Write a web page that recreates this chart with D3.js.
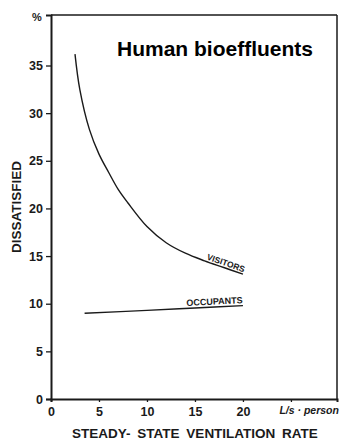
<!DOCTYPE html>
<html>
<head>
<meta charset="utf-8">
<script src="https://cdn.jsdelivr.net/npm/d3@7"></script>
<style>
  html, body { margin: 0; padding: 0; background: #fff; }
  svg { display: block; font-family: "Liberation Sans", Arial, sans-serif; }
</style>
</head>
<body>
<svg id="chart" width="339" height="442"></svg>
<script>
// Ventilation rate (L/s per person) and percentage dissatisfied
const visitorRate = [2.5, 3, 4, 5, 6, 7, 8, 10, 12, 14, 16, 18, 20];
const visitorDissatisfied = [36.2, 32.5, 28.3, 25.7, 23.8, 22.0, 20.6, 18.1, 16.4, 15.3, 14.5, 13.8, 13.1];
const occupantRate = [3.5, 10, 15, 20];
const occupantDissatisfied = [9.0, 9.3, 9.55, 9.8];
const xTicks = [0, 5, 10, 15, 20, 25];
const xTickLabels = ["0", "5", "10", "15", "20", "L/s · person"];
const yTicks = [0, 5, 10, 15, 20, 25, 30, 35];

const svg = d3.select("#chart");
const plotLeft = 51, plotRight = 337, plotTop = 15, plotBottom = 399;

const x = d3.scaleLinear().domain([0, 29.8]).range([plotLeft, plotRight]);
const y = d3.scaleLinear().domain([0, 40.3]).range([plotBottom, plotTop]);

const ink = "#1a1a1a";

// Frame: heavier left/bottom axes, lighter top/right borders
svg.append("line").attr("x1", plotLeft).attr("x2", plotRight).attr("y1", plotTop).attr("y2", plotTop)
  .attr("stroke", ink).attr("stroke-width", 1.5);
svg.append("line").attr("x1", plotRight).attr("x2", plotRight).attr("y1", plotTop).attr("y2", plotBottom)
  .attr("stroke", ink).attr("stroke-width", 1.5);

// Y axis
const yAxis = svg.append("g").attr("transform", `translate(${plotLeft},0)`)
  .call(d3.axisLeft(y).tickValues(yTicks).tickSize(5).tickPadding(3));
// X axis
const xAxis = svg.append("g").attr("transform", `translate(0,${plotBottom})`)
  .call(d3.axisBottom(x).tickValues(xTicks).tickSize(3).tickPadding(5)
    .tickFormat((d, i) => xTickLabels[i]));

[yAxis, xAxis].forEach(g => {
  g.select(".domain").attr("stroke", ink).attr("stroke-width", 2);
  g.selectAll(".tick line").attr("stroke", ink).attr("stroke-width", 1.3);
  g.selectAll(".tick text").attr("fill", ink)
    .style("font-size", "12.5px").style("font-weight", "bold")
    .style("font-family", "'Liberation Sans', Arial, sans-serif");
});
// Unit label sits to the right of the last tick position
xAxis.selectAll(".tick text").filter((d, i) => i === xTicks.length - 1)
  .attr("text-anchor", "start").attr("dx", -12)
  .style("font-size", "10.5px").style("font-style", "italic");

// Unit mark above the y axis
svg.append("text").attr("x", 37).attr("y", 21).attr("text-anchor", "middle")
  .attr("fill", ink).style("font-size", "11px").style("font-weight", "bold").text("%");

// Axis titles
svg.append("text")
  .attr("transform", `translate(21,207) rotate(-90)`)
  .attr("text-anchor", "middle").attr("fill", ink)
  .style("font-size", "13.5px").style("font-weight", "bold").text("DISSATISFIED");
svg.append("text").attr("x", 195).attr("y", 438).attr("text-anchor", "middle")
  .attr("fill", ink).style("font-size", "13.5px").style("font-weight", "bold")
  .style("word-spacing", "3px").text("STEADY- STATE  VENTILATION  RATE");

// Chart title
svg.append("text").attr("x", 117).attr("y", 56).attr("fill", "#000")
  .style("font-size", "21px").style("font-weight", "bold").style("font-family", "'Liberation Sans', Arial, sans-serif")
  .text("Human bioeffluents");

// Curves
const line = d3.line().x(d => x(d[0])).y(d => y(d[1])).curve(d3.curveCatmullRom.alpha(0.5));
const visitors = d3.zip(visitorRate, visitorDissatisfied);
const occupants = d3.zip(occupantRate, occupantDissatisfied);

svg.append("path").datum(visitors).attr("d", line)
  .attr("fill", "none").attr("stroke", ink).attr("stroke-width", 1.4);
svg.append("path").datum(occupants).attr("d", line)
  .attr("fill", "none").attr("stroke", ink).attr("stroke-width", 1.4);

// Curve labels, set along the end of each curve
function curveLabel(pts, text, size, dy) {
  const a = pts[pts.length - 2], b = pts[pts.length - 1];
  const ang = Math.atan2(y(b[1]) - y(a[1]), x(b[0]) - x(a[0])) * 180 / Math.PI;
  svg.append("text")
    .attr("transform", `translate(${x(b[0])},${y(b[1])}) rotate(${ang}) translate(0,${dy})`)
    .attr("text-anchor", "end").attr("fill", ink)
    .style("font-size", size + "px").style("font-weight", "bold").text(text);
}
curveLabel(visitors, "VISITORS", 8.5, -2);
curveLabel(occupants, "OCCUPANTS", 9, -2.5);
</script>
</body>
</html>
